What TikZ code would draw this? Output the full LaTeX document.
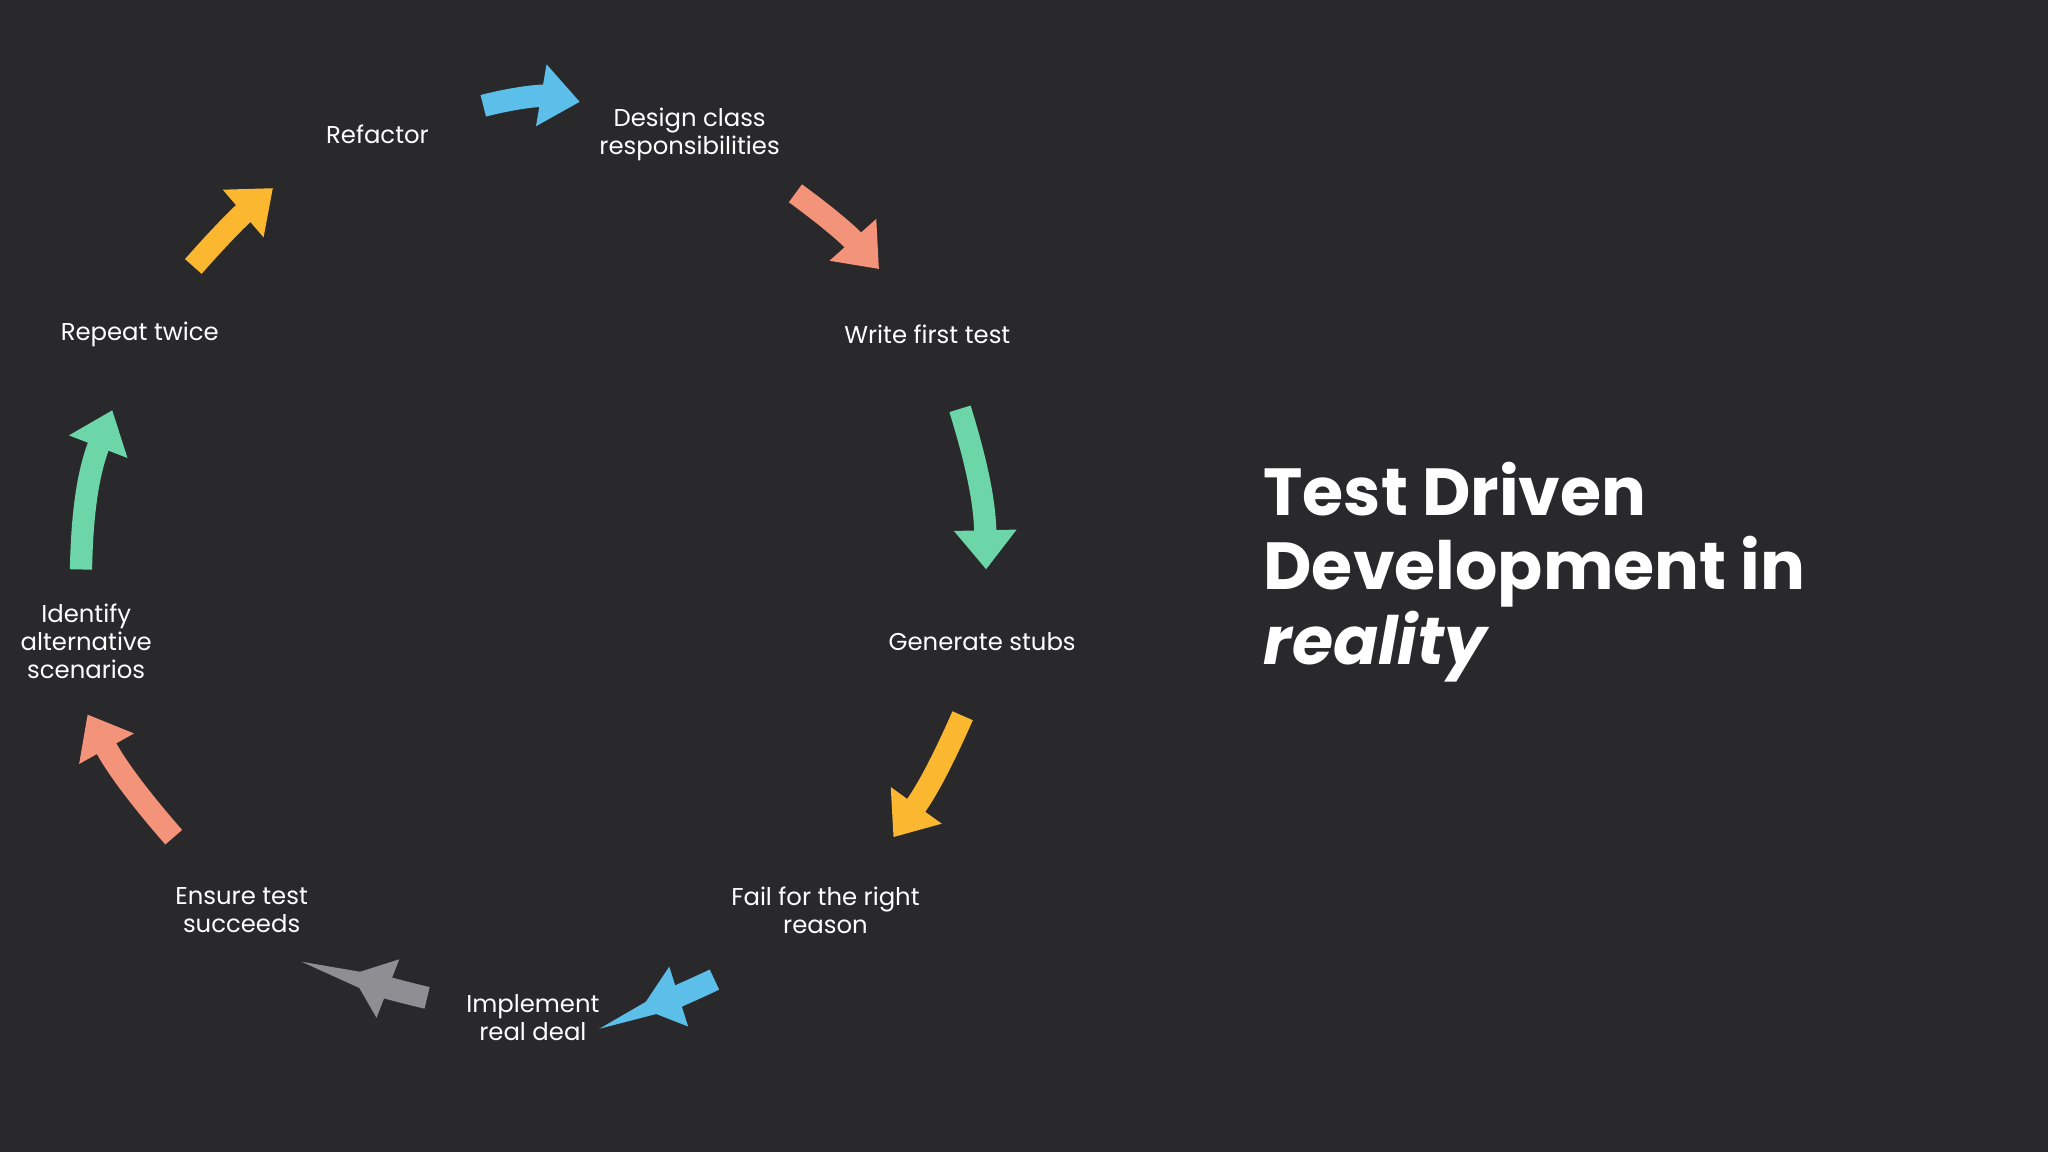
\documentclass[tikz,border=0pt]{standalone}
\usepackage{fontspec}
\setmainfont{Poppins}
\usetikzlibrary{arrows.meta}
\definecolor{bg}{HTML}{29292C}
\definecolor{cblue}{HTML}{5BBFE9}
\definecolor{csal}{HTML}{F2937A}
\definecolor{cgreen}{HTML}{6DD6A8}
\definecolor{cyel}{HTML}{FBB72F}
\definecolor{cgray}{HTML}{8F8E93}
\tikzset{
  lbl/.style={text=white,align=center,font=\fontsize{5.3}{6.2}\selectfont},
  barrow/.style={line width=0.17cm,-{Triangle[width=0.46cm,length=0.3cm]}},
}
\begin{document}
\begin{tikzpicture}[x=0.01cm,y=-0.01cm]
\fill[bg] (0,0) rectangle (1568,882);
\useasboundingbox (0,0) rectangle (1568,882);
\node[lbl] (ref) at (289,103) {Refactor};
\node[lbl] (des) at (528,103) {Design class\\responsibilities};
\node[lbl] (wri) at (710,256) {Write first test};
\node[lbl] (gen) at (752,491) {Generate stubs};
\node[lbl] (fail) at (632,697) {Fail for the right\\reason};
\node[lbl] (imp) at (408,779) {Implement\\real deal};
\node[lbl] (ens) at (185,697) {Ensure test\\succeeds};
\node[lbl] (ide) at (66,491) {Identify\\alternative\\scenarios};
\node[lbl] (rep) at (107,256) {Repeat twice};
\node[text=white,anchor=west,align=left,font=\fontsize{14.5}{16.2}\selectfont\bfseries] (title) at (955,438) {Test Driven\\Development in\\\textit{reality}};
\coordinate (a1) at (370,81); \coordinate (b1) at (444,78);
\coordinate (a2) at (609,148); \coordinate (b2) at (673,206);
\coordinate (a3) at (735,313); \coordinate (b3) at (755,436);
\coordinate (a4) at (737,548); \coordinate (b4) at (684,641);
\coordinate (a5) at (547,750); \coordinate (b5) at (491,772);
\coordinate (a6) at (327,764); \coordinate (b6) at (269,746);
\coordinate (a7) at (133,641); \coordinate (b7) at (67,547);
\coordinate (a8) at (62,436); \coordinate (b8) at (86,314);
\coordinate (a9) at (148,204); \coordinate (b9) at (209,144);
\draw[barrow,cblue] (a1) to[bend left=12] (b1);
\draw[barrow,csal] (a2) to[bend left=6] (b2);
\draw[barrow,cgreen] (a3) to[bend left=8] (b3);
\draw[barrow,cyel] (a4) to[bend left=6] (b4);
\draw[barrow,cblue] (a5) to[bend left=4] (b5);
\draw[barrow,cgray] (a6) to[bend left=4] (b6);
\draw[barrow,csal] (a7) to[bend left=6] (b7);
\draw[barrow,cgreen] (a8) to[bend left=10] (b8);
\draw[barrow,cyel] (a9) to[bend left=4] (b9);
\end{tikzpicture}
\end{document}
